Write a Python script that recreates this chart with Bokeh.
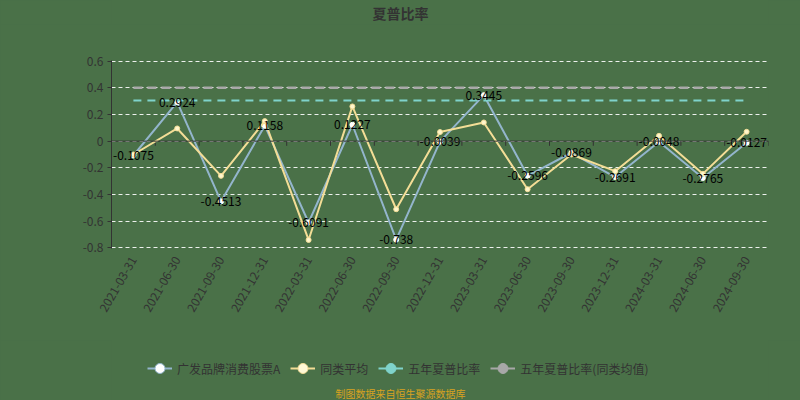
import math
from bokeh.plotting import figure
from bokeh.layouts import column
from bokeh.models import (Range1d, FixedTicker, Span, Label, Legend, LegendItem,
                          ColumnDataSource)
from bokeh.core.properties import value
from bokeh.embed import file_html
from bokeh.resources import INLINE

categories = ["2021-03-31", "2021-06-30", "2021-09-30", "2021-12-31", "2022-03-31",
              "2022-06-30", "2022-09-30", "2022-12-31", "2023-03-31", "2023-06-30",
              "2023-09-30", "2023-12-31", "2024-03-31", "2024-06-30", "2024-09-30"]
fund = [-0.1075, 0.2924, -0.4513, 0.1158, -0.6091, 0.1227, -0.738, -0.0039,
        0.3445, -0.2596, -0.0869, -0.2691, -0.0048, -0.2765, -0.0127]
peer_avg = [-0.10, 0.095, -0.26, 0.15, -0.74, 0.26, -0.51, 0.068,
            0.14, -0.36, -0.10, -0.225, 0.04, -0.245, 0.07]
five_year = [0.305, 0.305, 0.305, 0.305, 0.305, 0.305, 0.305, 0.305,
             0.305, 0.305, 0.305, 0.305, 0.305, 0.305, 0.305]
five_year_peer = [0.40, 0.40, 0.40, 0.40, 0.40, 0.40, 0.40, 0.40,
                  0.40, 0.40, 0.40, 0.40, 0.40, 0.40, 0.40]
y_ticks = [-0.8, -0.6, -0.4, -0.2, 0, 0.2, 0.4, 0.6]
y_tick_labels = ["-0.8", "-0.6", "-0.4", "-0.2", "0", "0.2", "0.4", "0.6"]
series_names = ["广发品牌消费股票A", "同类平均", "五年夏普比率", "五年夏普比率(同类均值)"]
title_text = "夏普比率"
footer_text = "制图数据来自恒生聚源数据库"

BG = "#4a7148"
BLUE = "#93b5cc"
YELLOW = "#f3dd96"
CYAN = "#7fd3cb"
GRAY = "#a8a8a8"
TXT = "#333333"
FONT = "Noto Sans CJK SC"
LEFT, RIGHT = 111, 32


def strip(height):
    f = figure(width=800, height=height, output_backend="svg", toolbar_location=None,
               x_range=Range1d(0, 1), y_range=Range1d(0, 1),
               x_axis_type=None, y_axis_type=None,
               min_border_left=LEFT, min_border_right=RIGHT, min_border_top=0,
               min_border_bottom=0)
    f.background_fill_color = None
    f.border_fill_color = BG
    f.outline_line_color = None
    f.xgrid.grid_line_color = None
    f.ygrid.grid_line_color = None
    return f


xs = list(range(len(categories)))

# title strip
t = strip(24)
t.add_layout(Label(x=400 - LEFT, y=12, x_units="screen", y_units="screen",
                   text=title_text, text_align="center", text_baseline="middle",
                   text_font=FONT, text_font_size="14px", text_font_style="bold",
                   text_color=TXT))

p = figure(width=800, height=316, output_backend="svg", toolbar_location=None,
           x_range=Range1d(-0.5, len(categories) - 0.5),
           y_range=Range1d(-0.804, 0.604),
           min_border_left=LEFT, min_border_right=RIGHT, min_border_top=36,
           min_border_bottom=92)
p.background_fill_color = None
p.border_fill_color = BG
p.outline_line_color = None

# axes
p.xaxis.ticker = FixedTicker(ticks=xs)
p.xaxis.major_label_overrides = {i: c for i, c in enumerate(categories)}
p.xaxis.major_label_orientation = math.pi / 3
p.xaxis.axis_line_color = None
p.xaxis.major_tick_line_color = None
p.xaxis.minor_tick_line_color = None
p.xaxis.major_label_text_color = TXT
p.xaxis.major_label_text_font = FONT
p.xaxis.major_label_text_font_size = "12px"
p.xaxis.major_label_standoff = 3

p.yaxis.ticker = FixedTicker(ticks=y_ticks)
p.yaxis.major_label_overrides = {tk: l for tk, l in zip(y_ticks, y_tick_labels)}
p.yaxis.axis_line_color = TXT
p.yaxis.major_tick_line_color = TXT
p.yaxis.major_tick_out = 4
p.yaxis.major_tick_in = 0
p.yaxis.minor_tick_line_color = None
p.yaxis.major_label_text_color = TXT
p.yaxis.major_label_text_font = FONT
p.yaxis.major_label_text_font_size = "12px"
p.yaxis.major_label_standoff = 4

p.xgrid.grid_line_color = None
p.ygrid.grid_line_color = "white"
p.ygrid.grid_line_dash = "4 3"
p.ygrid.grid_line_alpha = 0.9

# zero axis line with category boundary ticks
p.add_layout(Span(location=0, dimension="width", line_color=TXT, line_width=1))
bounds = [i - 0.5 for i in range(len(categories) + 1)]
p.segment(x0=bounds, x1=bounds, y0=[0] * len(bounds), y1=[-0.035] * len(bounds),
          line_color=TXT, line_width=1)

# series
p.line(xs, fund, line_color=BLUE, line_width=2)
p.scatter(xs, fund, size=5, fill_color="white", line_color="white")
p.line(xs, peer_avg, line_color=YELLOW, line_width=2)
p.scatter(xs, peer_avg, size=5, fill_color="#fff6cc", line_color=YELLOW)
p.line(xs, five_year, line_color=CYAN, line_width=2, line_dash="8 6")
p.line(xs, five_year_peer, line_color=GRAY, line_width=2.5, line_dash="9 5")

p.text(xs, fund, text=[str(v) for v in fund], text_align="center",
       text_baseline="middle", text_color="black", text_font=value(FONT),
       text_font_size="12px")

# legend + footer strip
q = strip(60)
nan_src = ColumnDataSource(data=dict(x=[float("nan")], y=[float("nan")]))
items = []
for name, lc, fc in zip(series_names, [BLUE, YELLOW, CYAN, GRAY],
                        ["white", "#fff8d6", CYAN, GRAY]):
    lr = q.line("x", "y", source=nan_src, line_color=lc, line_width=2)
    sr = q.scatter("x", "y", source=nan_src, size=12, fill_color=fc, line_color=lc,
                   line_width=1)
    items.append(LegendItem(label=name, renderers=[lr, sr]))

legend = Legend(items=items, orientation="horizontal", location=(147 - LEFT, 19),
                glyph_width=25, glyph_height=26, spacing=10, label_standoff=5,
                padding=0, margin=0, background_fill_alpha=0, border_line_alpha=0,
                label_text_font=FONT, label_text_font_size="12px",
                label_text_color=TXT)
q.add_layout(legend)

q.add_layout(Label(x=400 - LEFT, y=7, x_units="screen", y_units="screen",
                   text=footer_text, text_align="center", text_baseline="middle",
                   text_font=FONT, text_font_size="10px", text_color="#d9a21f"))

layout = column(t, p, q, spacing=0, styles={"background-color": BG})
open("out.html", "w").write(file_html(layout, INLINE))
